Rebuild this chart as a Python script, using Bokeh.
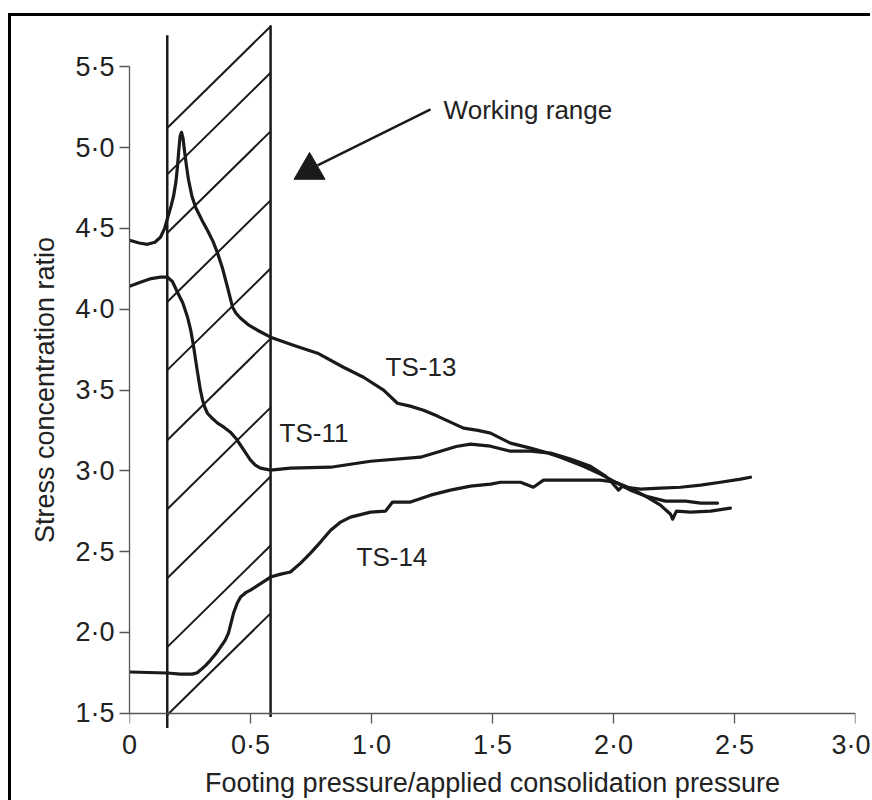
from bokeh.plotting import figure
from bokeh.models import FixedTicker, Range1d, LinearAxis
from bokeh.core.properties import value
from bokeh.embed import file_html
from bokeh.resources import INLINE

# ---- data ----
ts13_x = [0.000, 0.040, 0.074, 0.105, 0.128, 0.145, 0.157, 0.172, 0.182, 0.192, 0.198, 0.204,
          0.209, 0.215, 0.221, 0.227, 0.236, 0.244, 0.258, 0.273, 0.300, 0.322, 0.345, 0.364,
          0.385, 0.405, 0.426, 0.440, 0.459, 0.490, 0.529, 0.583, 0.680, 0.777, 0.884, 0.967,
          1.050, 1.107, 1.160, 1.215, 1.270, 1.326, 1.380, 1.440, 1.492, 1.574, 1.657, 1.719,
          1.781, 1.876, 1.946, 2.008, 2.070, 2.132, 2.194, 2.236, 2.244, 2.260, 2.318, 2.401,
          2.483]
ts13_y = [4.427, 4.410, 4.402, 4.415, 4.446, 4.500, 4.563, 4.640, 4.700, 4.790, 4.880, 4.990,
          5.070, 5.095, 5.060, 4.984, 4.880, 4.800, 4.700, 4.631, 4.550, 4.489, 4.420, 4.347,
          4.250, 4.136, 4.012, 3.975, 3.944, 3.905, 3.870, 3.827, 3.775, 3.728, 3.641, 3.579,
          3.499, 3.418, 3.400, 3.375, 3.340, 3.301, 3.264, 3.250, 3.233, 3.171, 3.140, 3.115,
          3.084, 3.028, 2.979, 2.929, 2.892, 2.843, 2.787, 2.731, 2.700, 2.750, 2.744, 2.750,
          2.769]

ts11_x = [0.000, 0.045, 0.090, 0.128, 0.157, 0.178, 0.198, 0.220, 0.240, 0.253, 0.264, 0.280,
          0.293, 0.302, 0.312, 0.322, 0.345, 0.364, 0.390, 0.417, 0.440, 0.459, 0.480, 0.500,
          0.520, 0.541, 0.583, 0.665, 0.831, 0.996, 1.202, 1.285, 1.350, 1.409, 1.492, 1.574,
          1.657, 1.740, 1.822, 1.905, 1.967, 1.996, 2.021, 2.037, 2.070, 2.132, 2.215, 2.298,
          2.360, 2.430]
ts11_y = [4.142, 4.167, 4.190, 4.199, 4.199, 4.170, 4.105, 4.040, 3.950, 3.870, 3.777, 3.620,
          3.499, 3.437, 3.390, 3.356, 3.320, 3.295, 3.270, 3.239, 3.200, 3.158, 3.110, 3.066,
          3.035, 3.016, 3.004, 3.016, 3.022, 3.059, 3.084, 3.121, 3.150, 3.165, 3.152, 3.121,
          3.121, 3.109, 3.072, 3.028, 2.967, 2.923, 2.880, 2.905, 2.880, 2.843, 2.812, 2.812,
          2.800, 2.800]

ts14_x = [0.000, 0.157, 0.211, 0.260, 0.280, 0.293, 0.315, 0.335, 0.356, 0.376, 0.395, 0.409,
          0.420, 0.430, 0.445, 0.459, 0.480, 0.500, 0.540, 0.583, 0.625, 0.665, 0.707, 0.748,
          0.790, 0.831, 0.870, 0.913, 0.996, 1.058, 1.087, 1.161, 1.244, 1.326, 1.409, 1.492,
          1.533, 1.616, 1.669, 1.711, 1.822, 1.946, 2.008, 2.050, 2.112, 2.194, 2.277, 2.360,
          2.442, 2.525, 2.566]
ts14_y = [1.754, 1.748, 1.741, 1.741, 1.750, 1.766, 1.795, 1.828, 1.865, 1.908, 1.950, 1.995,
          2.060, 2.119, 2.180, 2.218, 2.245, 2.261, 2.300, 2.342, 2.360, 2.373, 2.428, 2.490,
          2.560, 2.632, 2.680, 2.713, 2.744, 2.750, 2.806, 2.806, 2.849, 2.880, 2.905, 2.917,
          2.929, 2.929, 2.898, 2.942, 2.942, 2.942, 2.929, 2.898, 2.886, 2.892, 2.898, 2.911,
          2.929, 2.948, 2.960]

series_names = ["TS-13", "TS-11", "TS-14"]
label_x = [1.058, 0.620, 0.938]
label_y = [3.641, 3.233, 2.465]

x_ticks = [0, 0.5, 1.0, 1.5, 2.0, 2.5, 3.0]
x_tick_labels = ["0", "0·5", "1·0", "1·5", "2·0", "2·5", "3·0"]
y_ticks = [1.5, 2.0, 2.5, 3.0, 3.5, 4.0, 4.5, 5.0, 5.5]
y_tick_labels = ["1·5", "2·0", "2·5", "3·0", "3·5", "4·0", "4·5", "5·0", "5·5"]

# working range band
range_x = [0.156, 0.583]
range_top = [5.696, 5.758]
range_bottom = [1.407, 1.475]
hatch_left_y = [5.122, 4.835, 4.472, 4.045, 3.623, 3.189, 2.762, 2.335, 1.908, 1.488]
hatch_rise = 0.629

# annotation
note_text = "Working range"
note_x, note_y = 1.298, 5.231
arrow_x = [1.244, 0.777]
arrow_y = [5.238, 4.891]
marker_x, marker_y = [0.744], [4.86]

FONT = "Liberation Sans"
TXT = "#222222"
FS = "26px"
LABEL_FS = "27px"
TICK_FS = "27px"
INK = "#1a1a1a"
AXIS = "#555555"

p = figure(frame_width=726, frame_height=743,
           x_range=Range1d(0, 3.0), y_range=Range1d(1.20, 5.8),
           output_backend="svg", toolbar_location=None,
           min_border_left=118, min_border_right=15, min_border_top=2, min_border_bottom=38)
p.outline_line_color = None
p.xgrid.visible = False
p.ygrid.visible = False
p.background_fill_color = "white"
p.border_fill_color = "white"
# outer picture frame (thick black rule on the left and top)
p.styles = {"margin-left": "8px", "margin-top": "13px",
            "border-left": "3px solid black", "border-top": "3px solid black"}


def style_axis(ax, ticks, labels):
    ax.ticker = FixedTicker(ticks=ticks)
    ax.major_label_overrides = {t: l for t, l in zip(ticks, labels)}
    ax.minor_tick_line_color = None
    ax.major_tick_in = 0
    ax.major_tick_out = 10
    ax.axis_line_color = AXIS
    ax.major_tick_line_color = AXIS
    ax.axis_line_width = 1.3
    ax.major_tick_line_width = 1.3
    ax.major_label_text_font = FONT
    ax.major_label_text_font_size = TICK_FS
    ax.major_label_text_color = TXT
    ax.axis_label_text_font = FONT
    ax.axis_label_text_font_size = LABEL_FS
    ax.axis_label_text_font_style = "normal"
    ax.axis_label_text_color = TXT


# x axis line and ticks drawn at y = 1.5
xa = p.xaxis[0]
style_axis(xa, x_ticks, x_tick_labels)
xa.bounds = (0, 3.0)
xa.fixed_location = 1.5
xa.major_label_text_color = None

# x tick labels and title, from the panel below the frame
xl = LinearAxis()
style_axis(xl, x_ticks, x_tick_labels)
xl.axis_line_color = None
xl.major_tick_line_color = None
xl.major_tick_out = 0
xl.major_label_standoff = -32
xl.axis_label = "Footing pressure/applied consolidation pressure"
xl.axis_label_standoff = 5
p.add_layout(xl, "below")

ya = p.yaxis[0]
style_axis(ya, y_ticks, y_tick_labels)
ya.bounds = (1.5, 5.5)
ya.axis_label = "Stress concentration ratio"
ya.major_label_standoff = 5
ya.axis_label_standoff = 12

# hatched working range
p.segment(x0=[range_x[0]] * len(hatch_left_y), y0=hatch_left_y,
          x1=[range_x[1]] * len(hatch_left_y), y1=[v + hatch_rise for v in hatch_left_y],
          line_color=INK, line_width=2)
p.segment(x0=range_x, y0=range_bottom, x1=range_x, y1=range_top,
          line_color=INK, line_width=2.5)

# curves
for xs, ys in ((ts13_x, ts13_y), (ts11_x, ts11_y), (ts14_x, ts14_y)):
    p.line(xs, ys, line_color=INK, line_width=3.2, line_join="round", line_cap="round")

p.text(x=label_x, y=label_y, text=series_names, text_font=value(FONT), text_font_size=FS,
       text_color=TXT, text_baseline="alphabetic", text_align="left")

# working range note
p.line(arrow_x, arrow_y, line_color=INK, line_width=2.5)
p.scatter(marker_x, marker_y, marker="triangle", size=31, fill_color=INK, line_color=INK)
p.text(x=[note_x], y=[note_y], text=[note_text], text_font=value(FONT), text_font_size=FS,
       text_color=TXT, text_baseline="alphabetic", text_align="left")

open("out.html", "w").write(file_html(p, INLINE))
